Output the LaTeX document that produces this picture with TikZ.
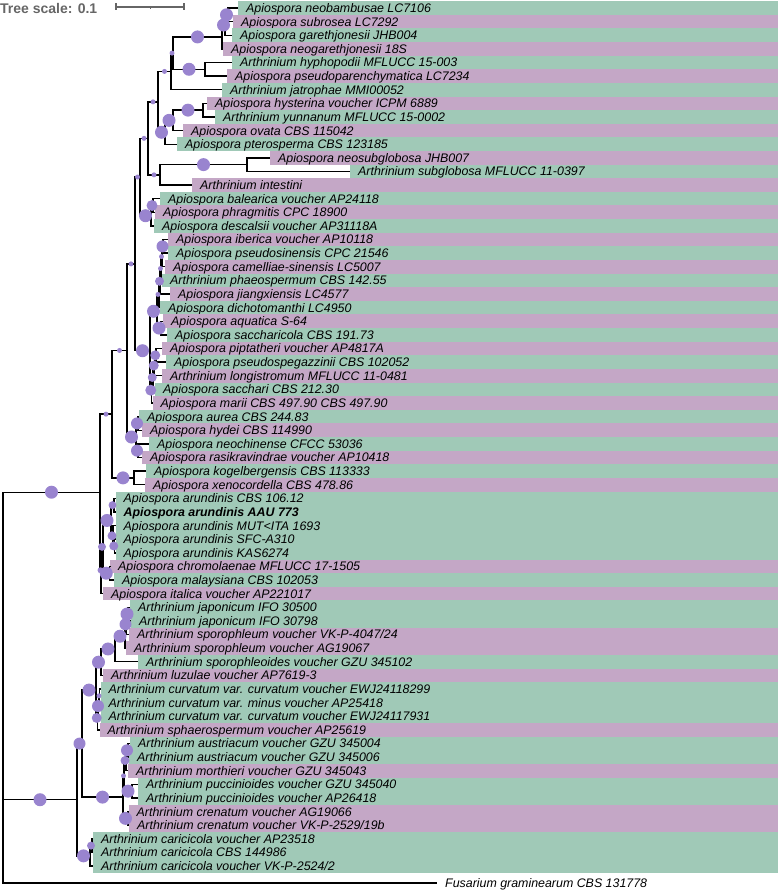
\documentclass[tikz,border=0pt]{standalone}
\usepackage{fontspec}
\setmainfont{Liberation Sans}
\usetikzlibrary{calc}
\definecolor{grn}{RGB}{160,201,183}
\definecolor{prp}{RGB}{196,167,198}
\definecolor{bootc}{RGB}{153,132,207}
\definecolor{scl}{RGB}{102,102,102}
\newcommand\clade[4]{\path let \p1=(#3), \p2=(#4) in coordinate (#1) at (#2pt,{0.5*(\y1+\y2)});}

\begin{document}
\begin{tikzpicture}
  [x=1pt, y=-1pt,
   branch/.style={line width=1.4pt, line join=miter},
   leaf/.style={anchor=west, inner xsep=8pt, inner ysep=0pt, text height=8.9pt, text depth=0pt,
                font=\fontsize{12.4}{14}\selectfont\itshape},
   boot/.style={fill=bootc},
   scalebar/.style={draw=scl, line width=1.1pt}]

  \useasboundingbox (0,0) rectangle (778,891);

  \node[anchor=west, inner sep=0pt, text=scl, font=\fontsize{14}{16}\selectfont\bfseries] (ts) at (0,8) {Tree scale: 0.1};
  \coordinate (s0) at (116,7);
  \coordinate (s1) at (184,7);
  \coordinate (sm) at ($(s0)!.5!(s1)$);
  \draw[scalebar] (s0) -- (s1);
  \draw[scalebar] (s0) ++(0,-3.5) -- ++(0,7);
  \draw[scalebar] (s1) ++(0,-3.5) -- ++(0,7);
  \draw[scalebar, line width=0.8pt] (sm) -- ++(0,2.5);

  \foreach \x/\col/\txt [count=\i] in {
      238/grn/{Apiospora neobambusae LC7106},
      233/prp/{Apiospora subrosea LC7292},
      232/grn/{Apiospora garethjonesii JHB004},
      223/prp/{Apiospora neogarethjonesii 18S},
      232/grn/{Arthrinium hyphopodii MFLUCC 15-003},
      227/prp/{Apiospora pseudoparenchymatica LC7234},
      222/grn/{Arthrinium jatrophae MMI00052},
      207/prp/{Apiospora hysterina voucher ICPM 6889},
      215/grn/{Arthrinium yunnanum MFLUCC 15-0002},
      183/prp/{Apiospora ovata CBS 115042},
      177/grn/{Apiospora pterosperma CBS 123185},
      270/prp/{Apiospora neosubglobosa JHB007},
      350/grn/{Arthrinium subglobosa MFLUCC 11-0397},
      192/prp/{Arthrinium intestini},
      160/grn/{Apiospora balearica voucher AP24118},
      155/prp/{Apiospora phragmitis CPC 18900},
      154/grn/{Apiospora descalsii voucher AP31118A},
      168/prp/{Apiospora iberica voucher AP10118},
      168/grn/{Apiospora pseudosinensis CPC 21546},
      165/prp/{Apiospora camelliae-sinensis LC5007},
      162/grn/{Arthrinium phaeospermum CBS 142.55},
      170/prp/{Apiospora jiangxiensis LC4577},
      160/grn/{Apiospora dichotomanthi LC4950},
      163/prp/{Apiospora aquatica S-64},
      167/grn/{Apiospora saccharicola CBS 191.73},
      162/prp/{Apiospora piptatheri voucher AP4817A},
      166/grn/{Apiospora pseudospegazzinii CBS 102052},
      162/prp/{Arthrinium longistromum MFLUCC 11-0481},
      155/grn/{Apiospora sacchari CBS 212.30},
      152.5/prp/{Apiospora marii CBS 497.90 CBS 497.90},
      139/grn/{Apiospora aurea CBS 244.83},
      142/prp/{Apiospora hydei CBS 114990},
      149/grn/{Apiospora neochinense CFCC 53036},
      142/prp/{Apiospora rasikravindrae voucher AP10418},
      146/grn/{Apiospora kogelbergensis CBS 113333},
      145/prp/{Apiospora xenocordella CBS 478.86},
      115.5/grn/{Apiospora arundinis CBS 106.12},
      115.5/grn/{\bfseries Apiospora arundinis AAU 773},
      115.5/grn/{Apiospora arundinis MUT<ITA 1693},
      115.5/grn/{Apiospora arundinis SFC-A310},
      115.5/grn/{Apiospora arundinis KAS6274},
      110/prp/{Apiospora chromolaenae MFLUCC 17-1505},
      114/grn/{Apiospora malaysiana CBS 102053},
      103/prp/{Apiospora italica voucher AP221017},
      130/grn/{Arthrinium japonicum IFO 30500},
      131/grn/{Arthrinium japonicum IFO 30798},
      129/prp/{Arthrinium sporophleum voucher VK-P-4047/24},
      126/prp/{Arthrinium sporophleum voucher AG19067},
      138/grn/{Arthrinium sporophleoides voucher GZU 345102},
      103/prp/{Arthrinium luzulae voucher AP7619-3},
      100.5/grn/{Arthrinium curvatum var. curvatum voucher EWJ24118299},
      100.5/grn/{Arthrinium curvatum var. minus voucher AP25418},
      100.5/grn/{Arthrinium curvatum var. curvatum voucher EWJ24117931},
      99.5/prp/{Arthrinium sphaerospermum voucher AP25619},
      130/grn/{Arthrinium austriacum voucher GZU 345004},
      129/grn/{Arthrinium austriacum voucher GZU 345006},
      128/prp/{Arthrinium morthieri voucher GZU 345043},
      138/grn/{Arthrinium puccinioides voucher GZU 345040},
      138/grn/{Arthrinium puccinioides voucher AP26418},
      128.5/prp/{Arthrinium crenatum voucher AG19066},
      129/prp/{Arthrinium crenatum voucher VK-P-2529/19b},
      93/grn/{Arthrinium caricicola voucher AP23518},
      93/grn/{Arthrinium caricicola CBS 144986},
      93/grn/{Arthrinium caricicola voucher VK-P-2524/2}}{
    \pgfmathsetmacro\yy{8+(\i-1)*13.62}
    \fill[\col] (\x,\yy-6.81) rectangle (778,\yy+6.81);
    \node[leaf] (l\i) at (\x,\yy) {\txt};
  }
  \node[leaf] (l65) at (437,883) {Fusarium graminearum CBS 131778};

  \clade{ap1}{228}{l1}{l2}
  \clade{ap2}{225}{ap1}{l3}
  \clade{ap3}{222}{ap2}{l4}
  \clade{ap4}{205}{l5}{l6}
  \clade{ap5}{173}{ap3}{ap4}
  \clade{ap6}{171}{ap5}{l7}
  \clade{ap7}{203}{l8}{l9}
  \clade{ap8}{173}{ap7}{l10}
  \clade{ap9}{165}{ap8}{l11}
  \clade{ap10}{158}{ap6}{ap9}
  \clade{ap11}{247}{l12}{l13}
  \clade{ap12}{160}{ap11}{l14}
  \clade{ap13}{148}{ap10}{ap12}
  \clade{ap14}{153}{l15}{l16}
  \clade{ap15}{151}{ap14}{l17}
  \clade{ap16}{140}{ap13}{ap15}
  \clade{ap17}{163}{l18}{l19}
  \clade{ap18}{162}{ap17}{l20}
  \clade{ap19}{161}{ap18}{l21}
  \clade{ap20}{160}{ap19}{l22}
  \clade{ap21}{159}{ap20}{l23}
  \clade{ap22}{161}{l24}{l25}
  \clade{ap23}{157}{ap21}{ap22}
  \clade{ap24}{156}{l26}{l27}
  \clade{ap25}{154.5}{ap24}{l28}
  \clade{ap26}{153}{ap25}{l29}
  \clade{ap27}{151.5}{ap26}{l30}
  \clade{ap28}{150}{ap23}{ap27}
  \clade{ap29}{135}{ap16}{ap28}
  \clade{ap30}{138}{l31}{l32}
  \clade{ap31}{138}{l33}{l34}
  \clade{ap32}{136}{ap30}{ap31}
  \clade{ap33}{127}{ap29}{ap32}
  \clade{ap34}{134}{l35}{l36}
  \clade{ap35}{112}{ap33}{ap34}
  \clade{ap36}{114}{l37}{l38}
  \clade{ap37}{114.5}{l40}{l41}
  \clade{ap38}{113}{l39}{ap37}
  \clade{ap39}{111}{ap36}{ap38}
  \clade{ap40}{109.5}{l42}{l43}
  \clade{ap41}{103}{ap39}{ap40}
  \clade{ap42}{101}{ap41}{l44}
  \clade{ap43}{100}{ap35}{ap42}
  \clade{ar1}{128}{l45}{l46}
  \clade{ar2}{126}{ar1}{l47}
  \clade{ar3}{125}{ar2}{l48}
  \clade{ar4}{115}{ar3}{l49}
  \clade{ar5}{101}{ar4}{l50}
  \clade{ar6}{99.5}{l51}{l52}
  \clade{ar7}{98.5}{ar6}{l53}
  \clade{ar8}{97.5}{ar7}{l54}
  \clade{ar9}{96}{ar5}{ar8}
  \clade{ar10}{128}{l55}{l56}
  \clade{ar11}{126}{ar10}{l57}
  \clade{ar12}{132}{l58}{l59}
  \clade{ar13}{124}{ar11}{ar12}
  \clade{ar14}{128}{l60}{l61}
  \clade{ar15}{123}{ar13}{ar14}
  \clade{ar16}{82}{ar9}{ar15}
  \clade{ar17}{92}{l62}{l63}
  \clade{ar18}{90}{ar17}{l64}
  \clade{ar19}{77}{ar16}{ar18}
  \clade{root}{3}{ap43}{l65}

  \def\cladeedges{ap2/ap1/6.5, ap3/ap2/6.5, ap5/ap3/6.5, ap5/ap4/6.5, ap6/ap5/2.5,
    ap10/ap6/2.5, ap8/ap7/6.5, ap9/ap8/6.5, ap10/ap9/6.5, ap13/ap10/2.5,
    ap12/ap11/6.5, ap13/ap12/2.5, ap16/ap13/2.5, ap15/ap14/5.5, ap16/ap15/6.5,
    ap29/ap16/2.5, ap18/ap17/6, ap19/ap18/2.5, ap20/ap19/2.5, ap21/ap20/4.5,
    ap23/ap21/2.5, ap23/ap22/6.5, ap28/ap23/6.5, ap25/ap24/5, ap26/ap25/5,
    ap27/ap26/4.5, ap28/ap27/5.5, ap29/ap28/6.5, ap33/ap29/2.5, ap32/ap30/6,
    ap32/ap31/6, ap33/ap32/6.5, ap35/ap33/2.5, ap35/ap34/6.5, ap43/ap35/2.5,
    ap39/ap36/4, ap38/ap37/4.5, ap39/ap38/4.5, ap41/ap39/6.5, ap41/ap40/6.5,
    ap42/ap41/4, ap43/ap42/3, root/ap43/6.5,
    ar2/ar1/6.5, ar3/ar2/6, ar4/ar3/6.5, ar5/ar4/6.5, ar9/ar5/6.5, ar7/ar6/2.5,
    ar8/ar7/6, ar9/ar8/5, ar16/ar9/6.5, ar11/ar10/6, ar13/ar11/4.5, ar13/ar12/6.5,
    ar15/ar13/2.5, ar15/ar14/6.5, ar16/ar15/6.5, ar18/ar17/4, ar19/ar18/6.5,
    ar19/ar16/6, root/ar19/6.5}

  \foreach \pa/\ch/\rad in \cladeedges
    \draw[branch] (\pa) |- (\ch);

  \foreach \pa/\ch in {ap1/l1, ap1/l2, ap2/l3, ap3/l4, ap4/l5, ap4/l6, ap6/l7,
      ap7/l8, ap7/l9, ap8/l10, ap9/l11, ap11/l12, ap11/l13, ap12/l14, ap14/l15,
      ap14/l16, ap15/l17, ap17/l18, ap17/l19, ap18/l20, ap19/l21, ap20/l22,
      ap21/l23, ap22/l24, ap22/l25, ap24/l26, ap24/l27, ap25/l28, ap26/l29,
      ap27/l30, ap30/l31, ap30/l32, ap31/l33, ap31/l34, ap34/l35, ap34/l36,
      ap36/l37, ap36/l38, ap38/l39, ap37/l40, ap37/l41, ap40/l42, ap40/l43,
      ap42/l44, ar1/l45, ar1/l46, ar2/l47, ar3/l48, ar4/l49, ar5/l50, ar6/l51,
      ar6/l52, ar7/l53, ar8/l54, ar10/l55, ar10/l56, ar11/l57, ar12/l58,
      ar12/l59, ar14/l60, ar14/l61, ar17/l62, ar17/l63, ar18/l64, root/l65}
    \draw[branch] (\pa) |- (\ch.west);

  \foreach \pa/\ch/\rad in \cladeedges
    \fill[boot] ($(\pa |- \ch)!.5!(\ch)$) circle (\rad pt);
\end{tikzpicture}
\end{document}
